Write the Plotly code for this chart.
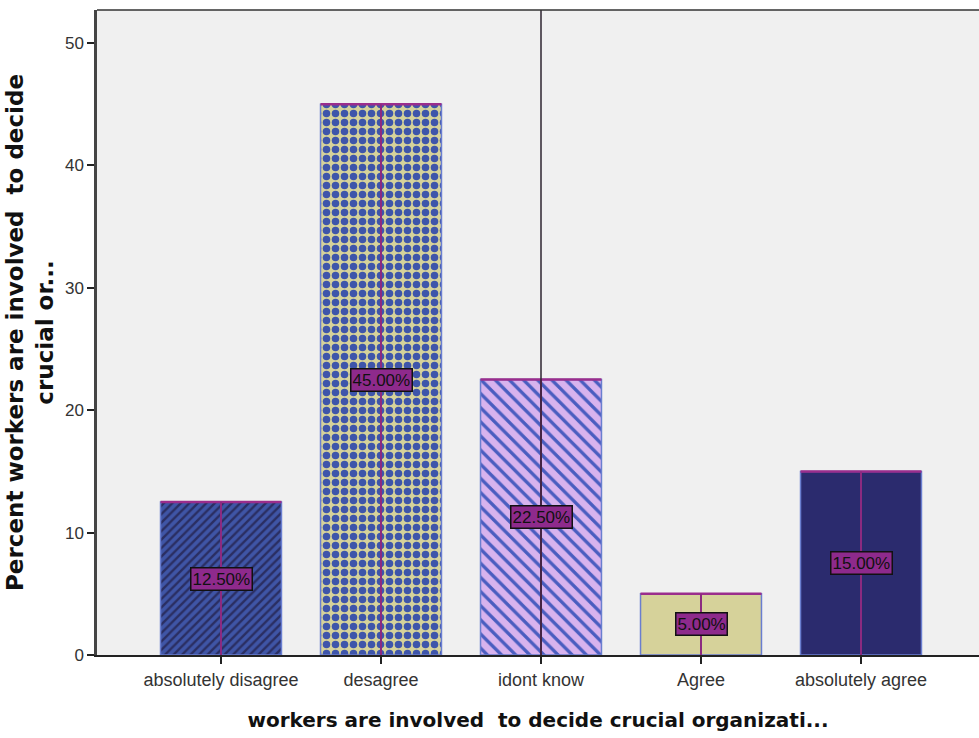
import plotly.graph_objects as go

categories = ["absolutely disagree", "desagree", "idont know", "Agree", "absolutely agree"]
percents = [12.5, 45.0, 22.5, 5.0, 15.0]
labels = ["12.50%", "45.00%", "22.50%", "5.00%", "15.00%"]
y_ticks = [0, 10, 20, 30, 40, 50]

bg_colors = ["#3F55A6", "#D6D29A", "#D8B3EE", "#D6D29A", "#2B2B6E"]
fg_colors = ["#2A2E62", "#3E55AA", "#4A5DC0", "#D6D29A", "#2B2B6E"]
shapes_pat = ["/", ".", "\\", "", ""]
pat_sizes = [6, 9, 10, 8, 8]
pat_solid = [0.4, 0.55, 0.33, 0.3, 0.3]

BAR_W = 0.756
xs = list(range(len(categories)))

fig = go.Figure()
for i, (x, v) in enumerate(zip(xs, percents)):
    pat = dict(shape=shapes_pat[i], fgcolor=fg_colors[i], bgcolor=bg_colors[i],
               size=pat_sizes[i], solidity=pat_solid[i], fillmode="overlay", fgopacity=1)
    fig.add_trace(go.Bar(
        x=[x], y=[v], width=BAR_W,
        marker=dict(color=bg_colors[i], line=dict(color="#6A7ED0", width=1.5), pattern=pat),
        hoverinfo="skip", showlegend=False,
    ))

shapes = []
for x, v in zip(xs, percents):
    shapes.append(dict(type="line", xref="x", yref="y", x0=x - BAR_W / 2, x1=x + BAR_W / 2,
                       y0=v, y1=v, line=dict(color="#9A2D8C", width=2.5), layer="above"))
    shapes.append(dict(type="line", xref="x", yref="y", x0=x, x1=x, y0=0, y1=v,
                       line=dict(color="#8C2A80", width=2), layer="above"))
shapes.append(dict(type="line", xref="x", yref="paper", x0=2, x1=2, y0=0, y1=1,
                   line=dict(color="#2E2430", width=1.5), layer="above"))
shapes.append(dict(type="line", xref="paper", yref="paper", x0=0, x1=1, y0=1, y1=1,
                   line=dict(color="#333333", width=1.5), layer="above"))

annotations = []
for x, v, t in zip(xs, percents, labels):
    annotations.append(dict(x=x, y=v / 2, xref="x", yref="y", text=t, showarrow=False,
                            font=dict(family="Liberation Sans, Arial", size=17, color="#111111"),
                            bgcolor="#8E2A8C", bordercolor="#111111", borderwidth=1.5,
                            borderpad=1))

fig.update_layout(
    width=979, height=738,
    margin=dict(l=97, r=0, t=10, b=83),
    paper_bgcolor="white",
    plot_bgcolor="#F0F0F0",
    font=dict(family="Liberation Sans, Arial", color="#333333"),
    shapes=shapes,
    annotations=annotations,
    xaxis=dict(
        range=[-0.775, 4.7375],
        tickvals=xs, ticktext=categories,
        ticks="outside", ticklen=7, tickwidth=1.5, tickcolor="#222222",
        tickfont=dict(size=18, color="#333333"),
        showline=True, linecolor="#222222", linewidth=2,
        showgrid=False, zeroline=False,
        title=dict(text="<b>workers are involved  to decide crucial organizati...</b>",
                   font=dict(family="DejaVu Sans", size=20, color="#111111"), standoff=24),
    ),
    yaxis=dict(
        range=[0, 52.7],
        tickvals=y_ticks,
        ticks="outside", ticklen=7, tickwidth=1.5, tickcolor="#222222",
        tickfont=dict(size=17, color="#333333"),
        showline=True, linecolor="#444444", linewidth=2.5,
        showgrid=False, zeroline=False,
        title=dict(text="<b>Percent workers are involved  to decide<br>crucial or...</b>",
                   font=dict(family="DejaVu Sans", size=23, color="#111111"), standoff=5),
    ),
)

fig.write_html("out.html")
